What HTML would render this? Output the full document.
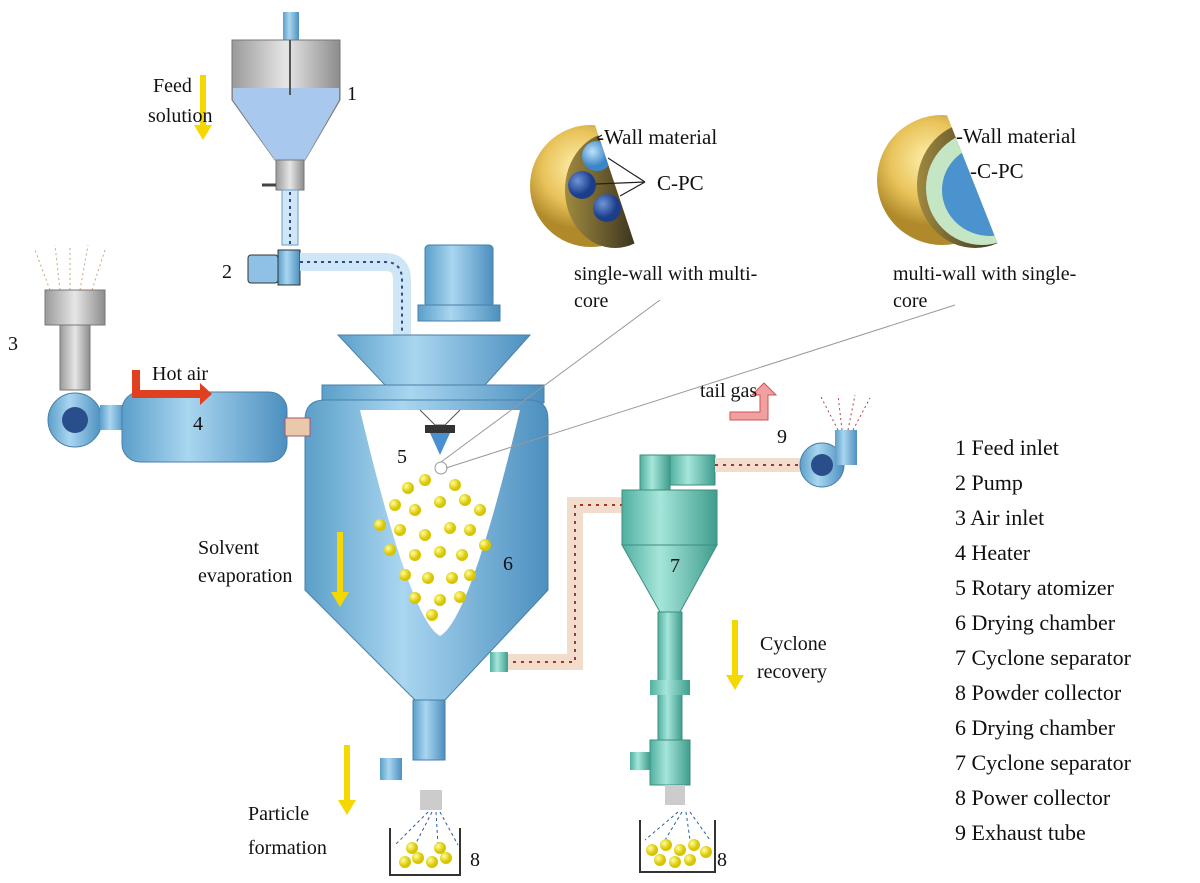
<!DOCTYPE html>
<html><head><meta charset="utf-8"><style>
body{margin:0;background:#fff;}
svg{display:block;font-family:"Liberation Serif",serif;}
</style></head><body>
<svg width="1200" height="883" viewBox="0 0 1200 883" xmlns="http://www.w3.org/2000/svg">
<defs>
<linearGradient id="blue" x1="0" x2="1"><stop offset="0" stop-color="#5b9fc9"/><stop offset="0.4" stop-color="#a9d6f0"/><stop offset="1" stop-color="#4c8fbf"/></linearGradient>
<linearGradient id="teal" x1="0" x2="1"><stop offset="0" stop-color="#4fb0a0"/><stop offset="0.4" stop-color="#a6e6da"/><stop offset="1" stop-color="#3f9d8d"/></linearGradient>
<linearGradient id="grey" x1="0" x2="1"><stop offset="0" stop-color="#9a9a9a"/><stop offset="0.5" stop-color="#e6e6e6"/><stop offset="1" stop-color="#8c8c8c"/></linearGradient>
<radialGradient id="gold" cx="0.4" cy="0.35"><stop offset="0" stop-color="#fff1b0"/><stop offset="0.6" stop-color="#e9c35a"/><stop offset="1" stop-color="#b08a2a"/></radialGradient>
<linearGradient id="dark" x1="0" x2="1" y1="0" y2="0"><stop offset="0" stop-color="#a08a40"/><stop offset="1" stop-color="#111"/></linearGradient>
<radialGradient id="ball" cx="0.35" cy="0.35"><stop offset="0" stop-color="#ffff99"/><stop offset="1" stop-color="#d9c400"/></radialGradient>
<radialGradient id="core" cx="0.35" cy="0.35"><stop offset="0" stop-color="#6f95d8"/><stop offset="1" stop-color="#1c3d8a"/></radialGradient>
<radialGradient id="lcore" cx="0.35" cy="0.35"><stop offset="0" stop-color="#bfe3fa"/><stop offset="1" stop-color="#3b86c8"/></radialGradient>
<clipPath id="c1"><polygon points="500,95 585,95 645,275 500,275"/></clipPath>
<clipPath id="c2"><polygon points="860,95 939,95 1008,270 860,270"/></clipPath>
</defs>

<!-- Feed tank -->
<rect x="283" y="12" width="16" height="28" fill="url(#blue)"/>
<path d="M232 40 H340 V100 L305 160 H275 L232 100 Z" fill="url(#grey)" stroke="#777"/>
<path d="M233 88 H339 V100 L305 160 H275 L233 100 Z" fill="#a9c8ee"/>
<line x1="290" y1="40" x2="290" y2="95" stroke="#555" stroke-width="2"/>
<rect x="276" y="160" width="28" height="30" fill="url(#grey)" stroke="#777"/>
<line x1="262" y1="185" x2="276" y2="185" stroke="#444" stroke-width="3"/>
<rect x="282" y="190" width="16" height="55" fill="#cfe6f7" stroke="#6a9fc4"/>
<line x1="290" y1="192" x2="290" y2="245" stroke="#2a4d8c" stroke-width="2" stroke-dasharray="3,4"/>
<!-- pump -->
<rect x="248" y="255" width="30" height="28" rx="3" fill="#8fc1e6" stroke="#333"/>
<rect x="278" y="250" width="22" height="35" fill="url(#blue)" stroke="#333"/>
<!-- pipe to chamber -->
<path d="M300 262 H385 Q402 262 402 280 V340" fill="none" stroke="#cfe6f7" stroke-width="18"/>
<path d="M300 262 H385 Q402 262 402 280 V340" fill="none" stroke="#2a4d8c" stroke-width="2" stroke-dasharray="3,4"/>
<!-- motor -->
<rect x="425" y="245" width="68" height="62" rx="4" fill="url(#blue)" stroke="#4a7fa8"/>
<rect x="418" y="305" width="82" height="16" fill="url(#blue)" stroke="#4a7fa8"/>
<!-- funnel and plate -->
<path d="M338 335 H530 L485 385 H385 Z" fill="url(#blue)" stroke="#4a7fa8"/>
<rect x="322" y="385" width="222" height="18" fill="url(#blue)" stroke="#4a7fa8"/>
<!-- chamber -->
<path d="M305 420 Q305 400 325 400 H530 Q548 400 548 420 V590 L445 700 H415 L305 590 Z" fill="url(#blue)" stroke="#4a7fa8"/>
<path d="M360 410 H520 Q470 620 440 636 Q410 620 360 410 Z" fill="#fff"/>
<rect x="413" y="700" width="32" height="60" fill="url(#blue)" stroke="#4a7fa8"/>
<rect x="380" y="758" width="22" height="22" fill="url(#blue)"/>
<rect x="420" y="790" width="22" height="20" fill="#ccc"/>
<!-- nozzle -->
<path d="M420 410 L435 425 H445 L460 410" fill="none" stroke="#555"/>
<rect x="425" y="425" width="30" height="8" fill="#333"/>
<path d="M430 433 H450 L440 455 Z" fill="#4a8fd0"/>
<circle cx="441" cy="468" r="6" fill="#fff" stroke="#999"/>
<!-- particles in chamber -->
<g fill="url(#ball)">
<circle cx="408" cy="488" r="6"/><circle cx="425" cy="480" r="6"/><circle cx="455" cy="485" r="6"/><circle cx="465" cy="500" r="6"/><circle cx="395" cy="505" r="6"/><circle cx="415" cy="510" r="6"/><circle cx="440" cy="502" r="6"/><circle cx="480" cy="510" r="6"/><circle cx="400" cy="530" r="6"/><circle cx="425" cy="535" r="6"/><circle cx="450" cy="528" r="6"/><circle cx="470" cy="530" r="6"/><circle cx="390" cy="550" r="6"/><circle cx="415" cy="555" r="6"/><circle cx="440" cy="552" r="6"/><circle cx="462" cy="555" r="6"/><circle cx="405" cy="575" r="6"/><circle cx="428" cy="578" r="6"/><circle cx="452" cy="578" r="6"/><circle cx="470" cy="575" r="6"/><circle cx="415" cy="598" r="6"/><circle cx="440" cy="600" r="6"/><circle cx="460" cy="597" r="6"/><circle cx="432" cy="615" r="6"/><circle cx="380" cy="525" r="6"/><circle cx="485" cy="545" r="6"/>
</g>
<!-- collector bins -->
<g stroke="#2a5d9c" stroke-dasharray="3,3" fill="none"><path d="M428 812 L395 845 M432 812 L415 845 M436 812 L438 845 M440 812 L458 845"/><path d="M678 812 L645 840 M682 812 L665 840 M686 812 L690 840 M690 812 L710 840"/></g>
<path d="M390 828 V875 H460 V828" fill="none" stroke="#333" stroke-width="2"/>
<path d="M640 820 V872 H715 V820" fill="none" stroke="#333" stroke-width="2"/>
<g fill="url(#ball)"><circle cx="405" cy="862" r="6"/><circle cx="418" cy="858" r="6"/><circle cx="432" cy="862" r="6"/><circle cx="446" cy="858" r="6"/><circle cx="412" cy="848" r="6"/><circle cx="440" cy="848" r="6"/>
<circle cx="652" cy="850" r="6"/><circle cx="666" cy="845" r="6"/><circle cx="680" cy="850" r="6"/><circle cx="694" cy="845" r="6"/><circle cx="706" cy="852" r="6"/><circle cx="660" cy="860" r="6"/><circle cx="675" cy="862" r="6"/><circle cx="690" cy="860" r="6"/></g>
<!-- air inlet / heater -->
<g stroke="#caa27a" stroke-dasharray="2,3" fill="none"><path d="M50 290 L35 250 M60 290 L55 245 M70 290 L70 245 M80 290 L88 245 M92 290 L105 250"/></g>
<rect x="45" y="290" width="60" height="35" fill="url(#grey)" stroke="#777"/>
<rect x="60" y="325" width="30" height="65" fill="url(#grey)" stroke="#777"/>
<circle cx="75" cy="420" r="27" fill="url(#blue)" stroke="#4a7fa8"/>
<circle cx="75" cy="420" r="13" fill="#2a4d8c"/>
<rect x="100" y="405" width="25" height="25" fill="url(#blue)"/>
<rect x="122" y="392" width="165" height="70" rx="18" fill="url(#blue)" stroke="#4a7fa8"/>
<rect x="285" y="418" width="25" height="18" fill="#e9c9a9" stroke="#a56"/>
<path d="M132 398 V370 H140 V390 H200 V383 L212 394 L200 405 V398 Z" fill="#e04020"/>
<!-- cyclone -->
<path d="M505 662 H575 V505 H625" fill="none" stroke="#f2dccc" stroke-width="16"/>
<path d="M505 662 H575 V505 H625" fill="none" stroke="#b03030" stroke-width="2" stroke-dasharray="3,5"/>
<rect x="490" y="652" width="18" height="20" fill="url(#teal)"/>
<rect x="640" y="455" width="30" height="35" fill="url(#teal)" stroke="#3f8d7d"/>
<rect x="670" y="455" width="45" height="30" fill="url(#teal)" stroke="#3f8d7d"/>
<rect x="622" y="490" width="95" height="55" fill="url(#teal)" stroke="#3f8d7d"/>
<path d="M622 545 H717 L680 612 H660 Z" fill="url(#teal)" stroke="#3f8d7d"/>
<rect x="658" y="612" width="24" height="130" fill="url(#teal)" stroke="#3f8d7d"/>
<rect x="650" y="680" width="40" height="15" fill="url(#teal)"/>
<rect x="650" y="740" width="40" height="45" fill="url(#teal)" stroke="#3f8d7d"/>
<rect x="630" y="752" width="20" height="18" fill="url(#teal)"/>
<rect x="665" y="785" width="20" height="20" fill="#ccc"/>
<path d="M715 465 H800" fill="none" stroke="#f2dccc" stroke-width="14"/>
<path d="M715 465 H800" fill="none" stroke="#b03030" stroke-width="2" stroke-dasharray="3,5"/>
<circle cx="822" cy="465" r="22" fill="url(#blue)" stroke="#4a7fa8"/>
<circle cx="822" cy="465" r="11" fill="#2a4d8c"/>
<rect x="835" y="430" width="22" height="35" fill="url(#blue)"/>
<g stroke="#b04040" stroke-dasharray="2,3" fill="none"><path d="M838 430 L820 395 M842 430 L838 395 M848 430 L855 395 M853 430 L870 398"/></g>
<path d="M730 412 H760 V395 H752 L764 383 L776 395 H768 V420 H730 Z" fill="#f0a0a0" stroke="#c55"/>
<!-- yellow arrows -->
<g fill="#f5d800">
<path d="M200 75 h6 v50 h6 l-9 15 l-9 -15 h6 z"/>
<path d="M337 532 h6 v60 h6 l-9 15 l-9 -15 h6 z"/>
<path d="M732 620 h6 v55 h6 l-9 15 l-9 -15 h6 z"/>
<path d="M344 745 h6 v55 h6 l-9 15 l-9 -15 h6 z"/>
</g>
<!-- capsule 1 -->
<g clip-path="url(#c1)">
<circle cx="591" cy="186" r="61" fill="url(#gold)"/>
<ellipse cx="615" cy="190" rx="50" ry="58" fill="url(#dark)"/>
<circle cx="597" cy="156" r="15" fill="url(#lcore)"/>
</g>
<circle cx="582" cy="185" r="14" fill="url(#core)"/><circle cx="607" cy="208" r="14" fill="url(#core)"/>
<g stroke="#222" stroke-width="1.2" fill="none"><path d="M597 138 L602 135 M608 158 L645 182 M596 184 L645 182 M620 196 L645 182"/></g>
<!-- capsule 2 -->
<g clip-path="url(#c2)">
<circle cx="942" cy="180" r="65" fill="url(#gold)"/>
<ellipse cx="975" cy="185" rx="58" ry="63" fill="url(#dark)"/>
<ellipse cx="982" cy="188" rx="56" ry="57" fill="#c5e6c5"/>
<ellipse cx="990" cy="190" rx="48" ry="46" fill="#4b93cf"/>
</g>
<g font-size="21" fill="#111">
<text x="597" y="144">-Wall material</text><text x="657" y="190">C-PC</text>
<text x="956" y="143">-Wall material</text><text x="970" y="178">-C-PC</text>
</g>
<g stroke="#999" stroke-width="1"><line x1="441" y1="462" x2="660" y2="300"/><line x1="446" y1="468" x2="955" y2="305"/></g>
<!-- text -->
<g font-size="20" fill="#111">
<text x="153" y="92">Feed</text><text x="148" y="122">solution</text>
<text x="347" y="100">1</text><text x="222" y="278">2</text><text x="8" y="350">3</text>
<text x="193" y="430">4</text><text x="397" y="463">5</text><text x="503" y="570">6</text>
<text x="670" y="572">7</text><text x="470" y="866">8</text><text x="717" y="866">8</text><text x="777" y="443">9</text>
<text x="152" y="380">Hot air</text><text x="700" y="397">tail gas</text>
<text x="574" y="280">single-wall with multi-</text><text x="574" y="307">core</text>
<text x="893" y="280">multi-wall with single-</text><text x="893" y="307">core</text>
<text x="198" y="554">Solvent</text><text x="198" y="582">evaporation</text>
<text x="760" y="650">Cyclone</text><text x="757" y="678">recovery</text>
<text x="248" y="820">Particle</text><text x="248" y="854">formation</text>
</g>
<g font-size="22" fill="#111">
<text x="955" y="455">1 Feed inlet</text><text x="955" y="490">2 Pump</text><text x="955" y="525">3 Air inlet</text>
<text x="955" y="560">4 Heater</text><text x="955" y="595">5 Rotary atomizer</text><text x="955" y="630">6 Drying chamber</text>
<text x="955" y="665">7 Cyclone separator</text><text x="955" y="700">8 Powder collector</text><text x="955" y="735">6 Drying chamber</text>
<text x="955" y="770">7 Cyclone separator</text><text x="955" y="805">8 Power collector</text><text x="955" y="840">9 Exhaust tube</text>
</g>
</svg>
</body></html>
